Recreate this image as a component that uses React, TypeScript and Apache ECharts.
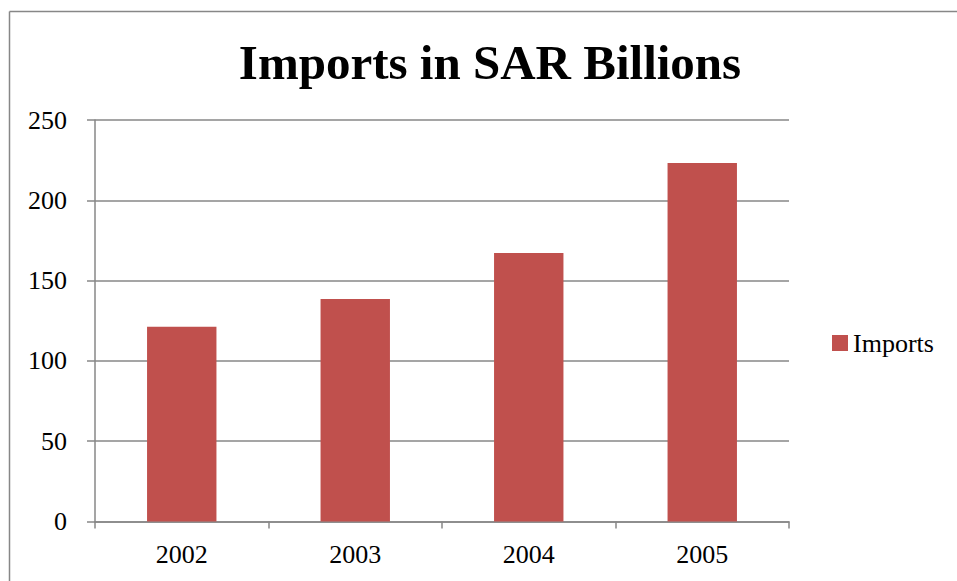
import React, { useEffect, useRef } from "react";
import * as echarts from "echarts";

const titleText = "Imports in SAR Billions";
const seriesName = "Imports";
const categories = ["2002", "2003", "2004", "2005"];
const importsValues = [121.3, 138.5, 167.2, 223.2];
const yMin = 0;
const yMax = 250;
const yInterval = 50;

const FONT = "'Liberation Serif', 'Times New Roman', serif";
const GRAY = "#878787";

export default function App() {
  const ref = useRef<HTMLDivElement>(null);
  useEffect(() => {
    if (!ref.current) return;
    const chart = echarts.init(ref.current, null, { renderer: "svg" });
    chart.setOption({
      animation: false,
      backgroundColor: "#ffffff",
      title: {
        text: titleText,
        left: 485,
        top: 33,
        textAlign: "center",
        textStyle: {
          fontFamily: FONT,
          fontWeight: "bold",
          fontSize: 49,
          color: "#000",
        },
      },
      graphic: [
        {
          type: "line",
          shape: { x1: 9.5, y1: 11.5, x2: 957, y2: 11.5 },
          style: { stroke: GRAY, lineWidth: 1.5 },
        },
        {
          type: "line",
          shape: { x1: 9.5, y1: 11.5, x2: 9.5, y2: 581 },
          style: { stroke: GRAY, lineWidth: 1.5 },
        },
      ],
      legend: {
        data: [seriesName],
        left: 832,
        top: 330,
        padding: 0,
        icon: "rect",
        itemWidth: 16,
        itemHeight: 16,
        textStyle: { fontFamily: FONT, fontSize: 26, color: "#000" },
      },
      grid: { left: 95, right: 168, top: 120, bottom: 59.5, containLabel: false },
      xAxis: {
        type: "category",
        data: categories,
        axisLine: { lineStyle: { color: GRAY, width: 1.5 } },
        axisTick: { show: true, length: 7, lineStyle: { color: GRAY, width: 1.5 } },
        axisLabel: { fontFamily: FONT, fontSize: 26, color: "#000", margin: 20 },
      },
      yAxis: {
        type: "value",
        min: yMin,
        max: yMax,
        interval: yInterval,
        axisLine: { show: true, lineStyle: { color: GRAY, width: 1.5 } },
        axisTick: { show: true, length: 8, lineStyle: { color: GRAY, width: 1.5 } },
        splitLine: { show: true, lineStyle: { color: GRAY, width: 1.5 } },
        axisLabel: { fontFamily: FONT, fontSize: 26, color: "#000", margin: 28 },
      },
      series: [
        {
          name: seriesName,
          type: "bar",
          data: importsValues,
          barWidth: "40%",
          itemStyle: { color: "#C0504D" },
        },
      ],
    });
    return () => chart.dispose();
  }, []);
  return (
    <div
      ref={ref}
      style={{ position: "absolute", left: 0, top: 0, width: 957, height: 581 }}
    />
  );
}
